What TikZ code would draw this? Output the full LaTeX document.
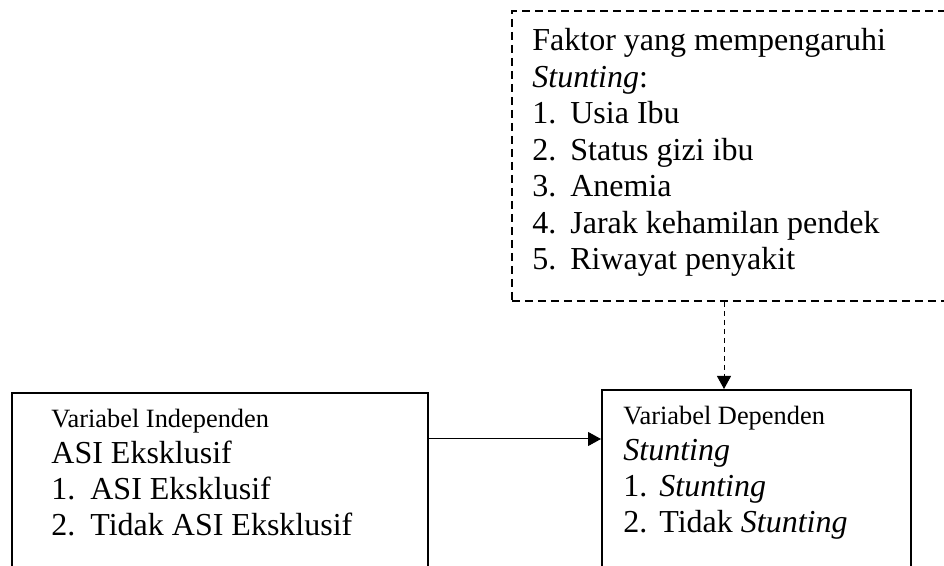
\documentclass[tikz,border=0pt]{standalone}
\usepackage{fontspec}
\setmainfont{Liberation Serif}
\usetikzlibrary{arrows.meta}
\newcommand{\itemno}[2][19pt]{\makebox[#1][l]{#2}}

\begin{document}
\begin{tikzpicture}[x=0.5pt, y=-0.5pt, >={Triangle[length=6.5pt,width=7pt]},
    box/.style={draw, line width=0.9pt, rectangle, anchor=north west, inner sep=0pt},
    dashbox/.style={box, dash pattern=on 4pt off 2.5pt},
    boxtext/.style={anchor=base west, align=left, inner sep=0pt,
        font=\fontsize{16}{18}\selectfont}]
    \useasboundingbox (0,0) rectangle (944,566);
    \clip (0,0) rectangle (944,566);

    \node[dashbox, minimum width=224.5pt, minimum height=145pt] (faktor) at (511,10) {};
    \node[box, minimum width=208pt, minimum height=104pt] (indep) at (11,392) {};
    \node[box, minimum width=154.5pt, minimum height=105.5pt] (dep) at (601,389) {};

    % base anchor sits on the last line
    \node[boxtext, font=\fontsize{16}{18.25}\selectfont] (faktortext) at (532,270)
        {Faktor yang mempengaruhi\\ \textit{Stunting}:\\ \itemno{1.}Usia Ibu\\
         \itemno{2.}Status gizi ibu\\ \itemno{3.}Anemia\\
         \itemno{4.}Jarak kehamilan pendek\\ \itemno{5.}Riwayat penyakit};
    \node[boxtext] (indeptext) at (51,536)
        {{\fontsize{13.2}{18}\selectfont Variabel Independen}\\ ASI Eksklusif\\
         \itemno[19.5pt]{1.}ASI Eksklusif\\ \itemno[19.5pt]{2.}Tidak ASI Eksklusif};
    \node[boxtext] (deptext) at (623,533)
        {{\fontsize{13.2}{18}\selectfont Variabel Dependen}\\ \textit{Stunting}\\
         \itemno[18pt]{1.}\textit{Stunting}\\ \itemno[18pt]{2.}Tidak \textit{Stunting}};

    \draw[->, line width=0.5pt] (indep.north east) ++(0,47) coordinate (a) -- (a -| dep.west);
    \coordinate (dx) at (724,0);
    \draw[->, line width=0.5pt, dash pattern=on 2.5pt off 2pt] (faktor.south -| dx) -- (dep.north -| dx);
\end{tikzpicture}
\end{document}
